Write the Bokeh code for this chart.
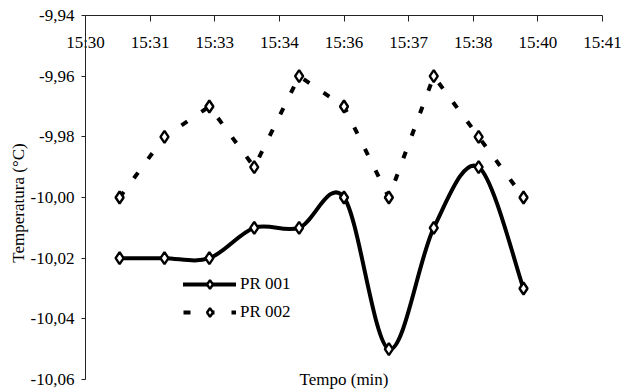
from bokeh.plotting import figure
from bokeh.models import FixedTicker, Legend, LegendItem, Label, Range1d
from bokeh.embed import file_html
from bokeh.resources import INLINE

# ---- data ----
times = ["15:31", "15:32", "15:33", "15:34", "15:35", "15:36", "15:37", "15:38", "15:39", "15:40"]
pr001 = [-10.02, -10.02, -10.02, -10.01, -10.01, -10.00, -10.05, -10.01, -9.99, -10.03]
pr002 = [-10.00, -9.98, -9.97, -9.99, -9.96, -9.97, -10.00, -9.96, -9.98, -10.00]
x_tick_labels = ["15:30", "15:31", "15:33", "15:34", "15:36", "15:37", "15:38", "15:40", "15:41"]
y_ticks = [-10.06, -10.04, -10.02, -10.00, -9.98, -9.96, -9.94]
y_tick_labels = ["-10,06", "-10,04", "-10,02", "-10,00", "-9,98", "-9,96", "-9,94"]
x_axis_min_day = 0.646
x_major_unit_day = 0.001

FONT = "Liberation Serif"
FS = "17px"


def to_min(s):
    h, m = s.split(":")
    return int(h) * 60 + int(m)


x = [to_min(t) for t in times]
x_min = x_axis_min_day * 1440
unit = x_major_unit_day * 1440
x_ticks = [x_min + k * unit for k in range(len(x_tick_labels))]
x_max = x_ticks[-1]
y_lo, y_hi = y_ticks[0], y_ticks[-1]

W, H = 623, 390
LEFT, TOP = 85, 15
frame_w = W - LEFT
frame_h = H - TOP
axis_px_x = 517
axis_px_y = 364

x_end = x_min + (x_max - x_min) * frame_w / axis_px_x
y_start = y_hi - (y_hi - y_lo) * frame_h / axis_px_y

p = figure(width=W, height=H, output_backend="svg", toolbar_location=None,
           x_axis_location="above",
           x_range=Range1d(x_min, x_end), y_range=Range1d(y_start, y_hi),
           min_border_left=LEFT, min_border_top=TOP, min_border_right=0, min_border_bottom=0)
p.outline_line_color = None
p.grid.visible = False
p.background_fill_color = "white"
p.border_fill_color = "white"

# top x axis: line + inward ticks, labels sitting just under the line
xa = p.xaxis[0]
xa.ticker = FixedTicker(ticks=x_ticks, minor_ticks=[])
xa.major_label_overrides = dict(zip(x_ticks, x_tick_labels))
xa.bounds = (x_min, x_max)
xa.major_tick_in = 6
xa.major_tick_out = 0
xa.minor_tick_line_color = None
xa.major_label_standoff = -36
xa.major_label_text_font = FONT
xa.major_label_text_font_size = FS
xa.major_label_text_color = "black"
xa.axis_line_color = "#222222"
xa.major_tick_line_color = "#222222"

ya = p.yaxis[0]
ya.ticker = FixedTicker(ticks=y_ticks, minor_ticks=[])
ya.bounds = (y_lo, y_hi)
ya.major_label_overrides = dict(zip(y_ticks, y_tick_labels))
ya.major_tick_in = 0
ya.major_tick_out = 4
ya.minor_tick_line_color = None
ya.major_label_standoff = 7
ya.major_label_text_font = FONT
ya.major_label_text_font_size = FS
ya.major_label_text_color = "black"
ya.axis_line_color = "#222222"
ya.major_tick_line_color = "#222222"
ya.axis_label = "Temperatura (°C)"
ya.axis_label_text_font = FONT
ya.axis_label_text_font_size = FS
ya.axis_label_text_font_style = "normal"
ya.axis_label_text_color = "black"
ya.axis_label_standoff = 0

# x axis title
p.add_layout(Label(x=(x_min + x_max) / 2, y=y_lo, text="Tempo (min)",
                   text_align="center", text_baseline="middle",
                   text_font=FONT, text_font_size=FS, text_color="black"))

# PR001: smoothed curve (Bezier segments built from data)
n = len(x)
bx0, by0, bx1, by1, cx0, cy0, cx1, cy1 = [], [], [], [], [], [], [], []
for i in range(n - 1):
    a = i - 1 if i > 0 else i
    d = i + 2 if i + 2 < n else i + 1
    bx0.append(x[i]); by0.append(pr001[i])
    bx1.append(x[i + 1]); by1.append(pr001[i + 1])
    cx0.append(x[i] + (x[i + 1] - x[a]) / 6)
    cy0.append(pr001[i] + (pr001[i + 1] - pr001[a]) / 6)
    cx1.append(x[i + 1] - (x[d] - x[i]) / 6)
    cy1.append(pr001[i + 1] - (pr001[d] - pr001[i]) / 6)
b1 = p.bezier(x0=bx0, y0=by0, x1=bx1, y1=by1, cx0=cx0, cy0=cy0, cx1=cx1, cy1=cy1,
              line_color="black", line_width=4, line_cap="round")

# PR002: dashed straight line
l2 = p.line(x, pr002, line_color="black", line_width=4, line_dash="7 17")

m1 = p.scatter(x, pr001, marker="diamond", size=12, fill_color="white",
               line_color="black", line_width=2.4)
m2 = p.scatter(x, pr002, marker="diamond", size=12, fill_color="white",
               line_color="black", line_width=2.4)

legend = Legend(items=[LegendItem(label="PR 001", renderers=[b1, m1]),
                       LegendItem(label="PR 002", renderers=[l2, m2])],
                location=(98, 67), orientation="vertical",
                glyph_width=53, glyph_height=22, spacing=6, label_standoff=4,
                padding=0, margin=0,
                border_line_alpha=0, background_fill_alpha=0,
                label_text_font=FONT, label_text_font_size=FS, label_text_color="black")
p.add_layout(legend)

open("out.html", "w").write(file_html(p, INLINE))
